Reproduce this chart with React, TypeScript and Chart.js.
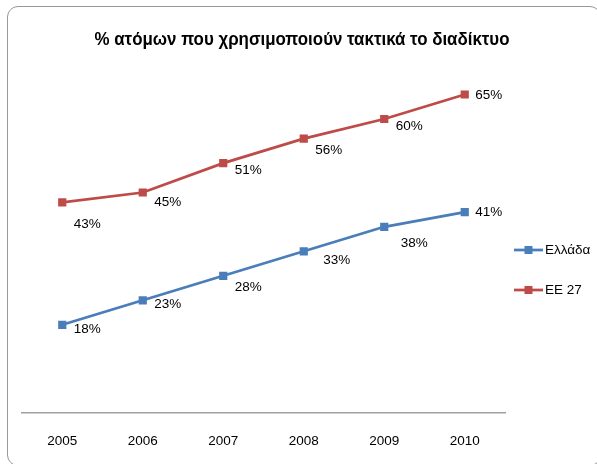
import React, { useEffect, useRef } from "react";
import { Chart, registerables } from "chart.js";

Chart.register(...registerables);

const years = ["2005", "2006", "2007", "2008", "2009", "2010"];
const greece = [18, 23, 28, 33, 38, 41];
const eu27 = [43, 45, 51, 56, 60, 65];
const seriesNames = ["Ελλάδα", "ΕΕ 27"];
const chartTitle = "% ατόμων που χρησιμοποιούν τακτικά το διαδίκτυο";

// label offsets (style only) relative to each point
const greeceLabelOffsets = [[25, 4], [25, 4], [25, 11], [33, 9], [30, 16], [24, 0]];
const euLabelOffsets = [[25, 22], [25, 10], [25, 7], [25, 12], [25, 7], [24, 1]];

const FONT = '"Liberation Sans", Arial, sans-serif';
const BLUE = "#4A7EBB";
const RED = "#BE4B48";

const labelPlugin = {
  id: "pointLabels",
  afterDatasetsDraw(chart: any) {
    const ctx = chart.ctx;
    ctx.save();
    ctx.font = `13.5px ${FONT}`;
    ctx.fillStyle = "#000";
    ctx.textAlign = "center";
    ctx.textBaseline = "middle";
    chart.data.datasets.forEach((ds: any, di: number) => {
      const meta = chart.getDatasetMeta(di);
      const offs = di === 0 ? greeceLabelOffsets : euLabelOffsets;
      meta.data.forEach((pt: any, i: number) => {
        const v = ds.data[i];
        ctx.fillText(`${v}%`, pt.x + offs[i][0], pt.y + offs[i][1]);
      });
    });
    ctx.restore();
  },
};

const titleLegendPlugin = {
  id: "titleLegend",
  afterDraw(chart: any) {
    const ctx = chart.ctx;
    ctx.save();
    ctx.font = `bold 18px ${FONT}`;
    const w = ctx.measureText(chartTitle).width;
    const sx = Math.min(1, 415 / w);
    ctx.fillStyle = "#000";
    ctx.textAlign = "center";
    ctx.textBaseline = "middle";
    ctx.translate(302, 40);
    ctx.scale(sx, 1);
    ctx.fillText(chartTitle, 0, 0);
    ctx.restore();

    ctx.save();
    const items = [
      { name: seriesNames[0], color: BLUE, y: 250 },
      { name: seriesNames[1], color: RED, y: 290 },
    ];
    ctx.font = `13.5px ${FONT}`;
    ctx.textAlign = "left";
    ctx.textBaseline = "middle";
    items.forEach((it) => {
      ctx.strokeStyle = it.color;
      ctx.lineWidth = 2.75;
      ctx.beginPath();
      ctx.moveTo(514, it.y);
      ctx.lineTo(543, it.y);
      ctx.stroke();
      ctx.fillStyle = it.color;
      ctx.fillRect(528.5 - 4, it.y - 4, 8, 8);
      ctx.fillStyle = "#000";
      ctx.fillText(it.name, 545, it.y);
    });
    ctx.restore();
  },
};

export default function App() {
  const ref = useRef<HTMLCanvasElement | null>(null);
  useEffect(() => {
    if (!ref.current) return;
    const chart = new Chart(ref.current, {
      type: "line",
      data: {
        labels: years,
        datasets: [
          {
            label: seriesNames[0],
            data: greece,
            borderColor: BLUE,
            backgroundColor: BLUE,
            borderWidth: 2.75,
            pointStyle: "rect",
            pointRadius: 5.8,
            pointBorderWidth: 0,
            tension: 0,
          },
          {
            label: seriesNames[1],
            data: eu27,
            borderColor: RED,
            backgroundColor: RED,
            borderWidth: 2.75,
            pointStyle: "rect",
            pointRadius: 5.8,
            pointBorderWidth: 0,
            tension: 0,
          },
        ],
      },
      options: {
        responsive: false,
        animation: false,
        devicePixelRatio: 1,
        layout: { padding: { left: 22, right: 92, top: 70, bottom: 15 } },
        plugins: {
          legend: { display: false },
          title: { display: false },
          tooltip: { enabled: false },
        },
        scales: {
          x: {
            offset: true,
            grid: { display: false, drawTicks: false },
            border: { display: true, color: "#A0A0A0", width: 1.5 },
            ticks: { color: "#000", padding: 20, maxRotation: 0, font: { family: FONT, size: 13.5 } },
            afterFit(scale: any) {
              scale.height = 36;
            },
          },
          y: {
            display: false,
            min: 0,
            max: 70,
          },
        },
      },
      plugins: [labelPlugin, titleLegendPlugin],
    });
    return () => chart.destroy();
  }, []);

  return (
    <div
      style={{
        position: "absolute",
        left: 0,
        top: 0,
        width: 597,
        height: 464,
        overflow: "hidden",
        background: "#fff",
      }}
    >
      <div
        style={{
          position: "absolute",
          left: 7,
          top: 6,
          width: 594,
          height: 460,
          border: "1px solid #999",
          borderRadius: 11,
          boxSizing: "border-box",
        }}
      />
      <canvas
        ref={ref}
        width={597}
        height={464}
        style={{ position: "absolute", left: 0, top: 0 }}
      />
    </div>
  );
}
